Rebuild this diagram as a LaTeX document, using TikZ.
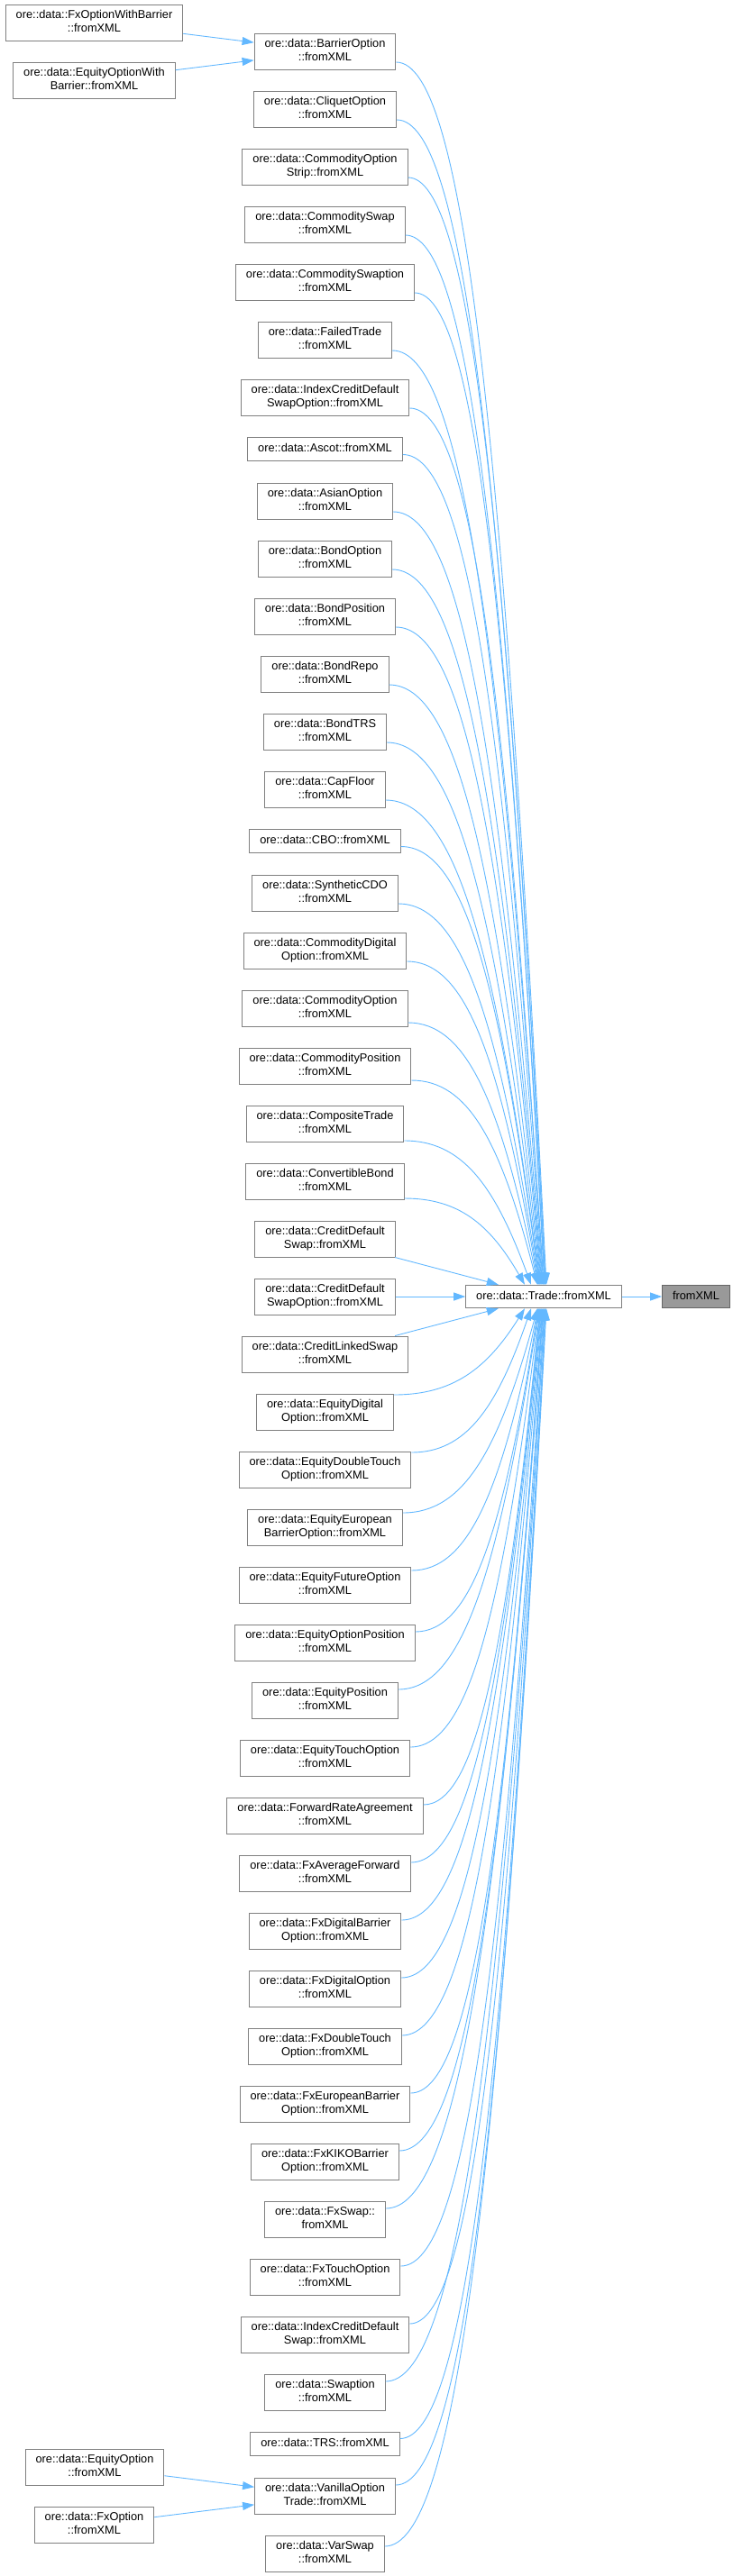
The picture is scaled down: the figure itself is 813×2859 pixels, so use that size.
\documentclass[tikz,border=0pt]{standalone}
\usepackage{fontspec}
\setmainfont{Liberation Sans}
\usetikzlibrary{calc,arrows.meta}
\definecolor{edgeblue}{HTML}{63B8FF}
\definecolor{boxgray}{HTML}{808080}
\definecolor{maingray}{HTML}{999999}
\definecolor{mainborder}{HTML}{666666}
\newcommand\twoln[2]{\strut#1\\\strut#2}
\newcommand\fanedge[4]{%
 \draw[edge] let \p1=($(#1.east)+(0,#2)$), \p2=($(trade.#3)+(#4,0)$) in
 (\p1) .. controls ({\x1+0.45*(\x2-\x1)},\y1) and ({\x1+0.71*(\x2-\x1)},{\y1+0.3*(\y2-\y1)}) .. (\p2);}
\tikzset{
 box/.style={draw=boxgray, fill=white, line width=1pt, inner xsep=11.5pt, inner ysep=0pt, align=center, font=\fontsize{12.8}{15}\selectfont},
 two/.style={box, minimum height=40pt},
 one/.style={box, minimum height=25.5pt},
 mainbox/.style={one, fill=maingray, draw=mainborder},
 edge/.style={draw=edgeblue, line width=0.9pt, -{Triangle[length=13pt,width=9pt]}},
}
\begin{document}
\begin{tikzpicture}[x=1pt,y=-1pt]
\useasboundingbox (0,0) rectangle (813,2859);
% left column
\node[two] (fxowb) at (104.5,25) {\twoln{ore::data::FxOptionWithBarrier}{::fromXML}};
\node[two] (eqowb) at (104.5,89) {\twoln{ore::data::EquityOptionWith}{Barrier::fromXML}};
\node[two] (eqopt) at (105,2738) {\twoln{ore::data::EquityOption}{::fromXML}};
\node[two] (fxopt) at (104.5,2802) {\twoln{ore::data::FxOption}{::fromXML}};
% middle column
\node[two] (n1) at (360.5,57) {\twoln{ore::data::BarrierOption}{::fromXML}};
\node[two] (n2) at (360.5,121) {\twoln{ore::data::CliquetOption}{::fromXML}};
\node[two] (n3) at (360.5,185) {\twoln{ore::data::CommodityOption}{Strip::fromXML}};
\node[two] (n4) at (360.5,249) {\twoln{ore::data::CommoditySwap}{::fromXML}};
\node[two] (n5) at (360.5,313) {\twoln{ore::data::CommoditySwaption}{::fromXML}};
\node[two] (n6) at (360.5,377) {\twoln{ore::data::FailedTrade}{::fromXML}};
\node[two] (n7) at (360.5,441) {\twoln{ore::data::IndexCreditDefault}{SwapOption::fromXML}};
\node[one] (n8) at (360.5,498.5) {\strut ore::data::Ascot::fromXML};
\node[two] (n9) at (360.5,556) {\twoln{ore::data::AsianOption}{::fromXML}};
\node[two] (n10) at (360.5,620) {\twoln{ore::data::BondOption}{::fromXML}};
\node[two] (n11) at (360.5,684) {\twoln{ore::data::BondPosition}{::fromXML}};
\node[two] (n12) at (360.5,748) {\twoln{ore::data::BondRepo}{::fromXML}};
\node[two] (n13) at (360.5,812) {\twoln{ore::data::BondTRS}{::fromXML}};
\node[two] (n14) at (360.5,876) {\twoln{ore::data::CapFloor}{::fromXML}};
\node[one] (n15) at (360.5,933.5) {\strut ore::data::CBO::fromXML};
\node[two] (n16) at (360.5,991) {\twoln{ore::data::SyntheticCDO}{::fromXML}};
\node[two] (n17) at (360.5,1055) {\twoln{ore::data::CommodityDigital}{Option::fromXML}};
\node[two] (n18) at (360.5,1119) {\twoln{ore::data::CommodityOption}{::fromXML}};
\node[two] (n19) at (360.5,1183) {\twoln{ore::data::CommodityPosition}{::fromXML}};
\node[two] (n20) at (360.5,1247) {\twoln{ore::data::CompositeTrade}{::fromXML}};
\node[two] (n21) at (360.5,1311) {\twoln{ore::data::ConvertibleBond}{::fromXML}};
\node[two] (n22) at (360.5,1375) {\twoln{ore::data::CreditDefault}{Swap::fromXML}};
\node[two] (n23) at (360.5,1439) {\twoln{ore::data::CreditDefault}{SwapOption::fromXML}};
\node[two] (n24) at (360.5,1503) {\twoln{ore::data::CreditLinkedSwap}{::fromXML}};
\node[two] (n25) at (360.5,1567) {\twoln{ore::data::EquityDigital}{Option::fromXML}};
\node[two] (n26) at (360.5,1631) {\twoln{ore::data::EquityDoubleTouch}{Option::fromXML}};
\node[two] (n27) at (360.5,1695) {\twoln{ore::data::EquityEuropean}{BarrierOption::fromXML}};
\node[two] (n28) at (360.5,1759) {\twoln{ore::data::EquityFutureOption}{::fromXML}};
\node[two] (n29) at (360.5,1823) {\twoln{ore::data::EquityOptionPosition}{::fromXML}};
\node[two] (n30) at (360.5,1887) {\twoln{ore::data::EquityPosition}{::fromXML}};
\node[two] (n31) at (360.5,1951) {\twoln{ore::data::EquityTouchOption}{::fromXML}};
\node[two] (n32) at (360.5,2015) {\twoln{ore::data::ForwardRateAgreement}{::fromXML}};
\node[two] (n33) at (360.5,2079) {\twoln{ore::data::FxAverageForward}{::fromXML}};
\node[two] (n34) at (360.5,2143) {\twoln{ore::data::FxDigitalBarrier}{Option::fromXML}};
\node[two] (n35) at (360.5,2207) {\twoln{ore::data::FxDigitalOption}{::fromXML}};
\node[two] (n36) at (360.5,2271) {\twoln{ore::data::FxDoubleTouch}{Option::fromXML}};
\node[two] (n37) at (360.5,2335) {\twoln{ore::data::FxEuropeanBarrier}{Option::fromXML}};
\node[two] (n38) at (360.5,2399) {\twoln{ore::data::FxKIKOBarrier}{Option::fromXML}};
\node[two] (n39) at (360.5,2463) {\twoln{ore::data::FxSwap::}{fromXML}};
\node[two] (n40) at (360.5,2527) {\twoln{ore::data::FxTouchOption}{::fromXML}};
\node[two] (n41) at (360.5,2591) {\twoln{ore::data::IndexCreditDefault}{Swap::fromXML}};
\node[two] (n42) at (360.5,2655) {\twoln{ore::data::Swaption}{::fromXML}};
\node[one] (n43) at (360.5,2712.5) {\strut ore::data::TRS::fromXML};
\node[two] (n44) at (360.5,2770) {\twoln{ore::data::VanillaOption}{Trade::fromXML}};
\node[two] (n45) at (360.5,2834) {\twoln{ore::data::VarSwap}{::fromXML}};
% right
\node[one] (trade) at (603,1439) {\strut ore::data::Trade::fromXML};
\node[mainbox] (main) at (772,1439) {\strut fromXML};
% edges left
\draw[edge] (fxowb) -- (n1);
\draw[edge] (eqowb) -- (n1);
\draw[edge] (eqopt) -- (n44);
\draw[edge] (fxopt) -- (n44);
\draw[edge] (trade) -- (main);
% upper fan
\fanedge{n1}{12}{north}{3.0}
\fanedge{n2}{12}{north}{2.4}
\fanedge{n3}{12}{north}{1.9}
\fanedge{n4}{12}{north}{1.3}
\fanedge{n5}{12}{north}{0.8}
\fanedge{n6}{12}{north}{0.2}
\fanedge{n7}{12}{north}{-0.3}
\fanedge{n8}{6}{north}{-0.9}
\fanedge{n9}{12}{north}{-1.4}
\fanedge{n10}{12}{north}{-2.0}
\fanedge{n11}{12}{north}{-2.6}
\fanedge{n12}{12}{north}{-3.1}
\fanedge{n13}{12}{north}{-3.7}
\fanedge{n14}{12}{north}{-4.2}
\fanedge{n15}{6}{north}{-4.8}
\fanedge{n16}{12}{north}{-5.3}
\fanedge{n17}{12}{north}{-5.9}
\fanedge{n18}{16}{north}{-6.4}
\fanedge{n19}{16}{north}{-7.0}
\fanedge{n20}{19}{north}{-14}
\fanedge{n21}{19}{north}{-21}
\draw[edge] (n22) -- (trade);
\draw[edge] (n23) -- (trade);
% lower fan
\draw[edge] (n24) -- (trade);
\fanedge{n25}{-19}{south}{-21}
\fanedge{n26}{-19}{south}{-14}
\fanedge{n27}{-16}{south}{-7.0}
\fanedge{n28}{-16}{south}{-6.4}
\fanedge{n29}{-12}{south}{-5.9}
\fanedge{n30}{-12}{south}{-5.3}
\fanedge{n31}{-12}{south}{-4.8}
\fanedge{n32}{-12}{south}{-4.2}
\fanedge{n33}{-12}{south}{-3.7}
\fanedge{n34}{-12}{south}{-3.1}
\fanedge{n35}{-12}{south}{-2.6}
\fanedge{n36}{-12}{south}{-2.0}
\fanedge{n37}{-12}{south}{-1.4}
\fanedge{n38}{-12}{south}{-0.9}
\fanedge{n39}{-12}{south}{-0.3}
\fanedge{n40}{-12}{south}{0.2}
\fanedge{n41}{-12}{south}{0.8}
\fanedge{n42}{-12}{south}{1.3}
\fanedge{n43}{-6}{south}{1.9}
\fanedge{n44}{-12}{south}{2.4}
\fanedge{n45}{-8}{south}{3.0}
\end{tikzpicture}
\end{document}
